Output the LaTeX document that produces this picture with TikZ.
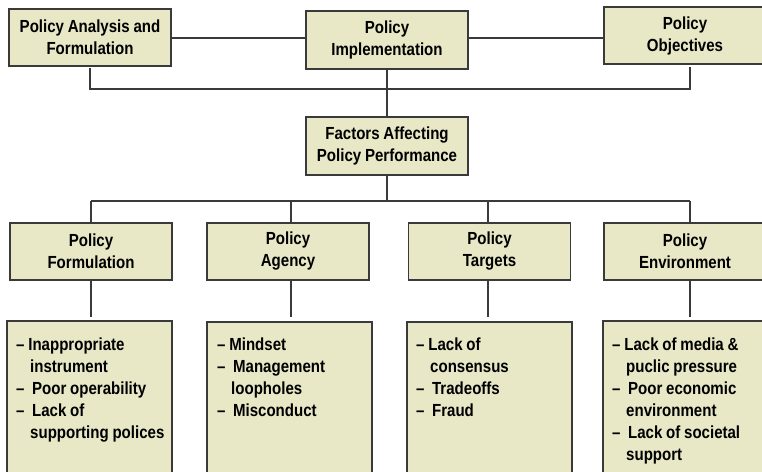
\documentclass[tikz,border=0pt]{standalone}
\usepackage{fontspec}
\setmainfont{Liberation Sans}[FakeStretch=0.86,WordSpace=0.9]
\definecolor{boxfill}{HTML}{E8E7C6}
\definecolor{edge}{HTML}{3A3A3A}
\begin{document}
\begin{tikzpicture}[x=1pt,y=-1pt,
  pbox/.style={draw=edge,line width=1.6pt,fill=boxfill,inner sep=0pt,
    align=center,font=\bfseries\fontsize{17.5}{22}\selectfont,
    minimum width=162pt},
  lbox/.style={draw=edge,line width=1.6pt,fill=boxfill},
  btext/.style={anchor=north west,inner sep=0pt,align=left,
    font=\bfseries\fontsize{17.5}{22}\selectfont},
  conn/.style={draw=edge,line width=1.4pt}]
\useasboundingbox (0,0) rectangle (762,471);
% top row
\node[pbox, minimum height=57pt] (pa) at (90,37.5) {Policy Analysis and\\Formulation};
\node[pbox, minimum height=58pt] (pi) at (387,40) {Policy\\Implementation};
\node[pbox, minimum height=57pt] (po) at (685,35.5) {Policy\\Objectives};
\node[pbox, minimum height=58pt] (pf) at (387,146) {Factors Affecting\\Policy Performance};
% second row
\node[pbox, minimum height=57pt] (f1) at (91,251.5) {Policy\\Formulation};
\node[pbox, minimum height=57pt] (f2) at (288,251.5) {Policy\\Agency};
\node[pbox, minimum height=57pt] (f3) at (489.5,251.5) {Policy\\Targets};
\node[pbox, minimum height=57pt] (f4) at (685,251.5) {Policy\\Environment};
% coordinates
\coordinate (la) at (171,38);
\coordinate (lb) at (306,38);
\coordinate (lc) at (468,38);
\coordinate (ld) at (604,38);
\coordinate (ja0) at (90,68);
\coordinate (ja) at (90,89);
\coordinate (jo) at (690,89);
\coordinate (jo0) at (690,67);
\coordinate (jm) at (387,201);
\coordinate (jl) at (91,201);
\coordinate (jr) at (690,201);
% connectors top
\draw[conn] (la) -- (lb);
\draw[conn] (lc) -- (ld);
\draw[conn] (ja0) -- (ja) -- (jo) -- (jo0);
\draw[conn] (pi.south) -- (pf.north);
\draw[conn] (pf.south) -- (jm);
\draw[conn] (jl) -- (jr);
\draw[conn] (jl) -- (jl |- f1.north);
\draw[conn] (291,201) -- (291,223);
\draw[conn] (488,201) -- (488,223);
\draw[conn] (jr) -- (jr |- f4.north);
% list boxes
\path[lbox] (7,321) rectangle (172,480);
\path[lbox] (207,322) rectangle (372,480);
\path[lbox] (407,322) rectangle (572,480);
\path[lbox] (603,321) rectangle (768,480);
% down to lists
\draw[conn] (91,280) -- (91,317);
\draw[conn] (291,280) -- (291,317);
\draw[conn] (488,280) -- (488,317);
\draw[conn] (690,280) -- (690,317);
\node[btext] (t1) at (16,338) {-- Inappropriate\\\hspace{14pt}instrument\\--\ \ Poor operability\\--\ \ Lack of\\\hspace{14pt}supporting polices};
\node[btext] (t2) at (217,338) {-- Mindset\\--\ \ Management\\\hspace{14pt}loopholes\\--\ \ Misconduct};
\node[btext] (t3) at (416,338) {-- Lack of\\\hspace{14pt}consensus\\--\ \ Tradeoffs\\--\ \ Fraud};
\node[btext] (t4) at (612,338) {-- Lack of media \&\\\hspace{14pt}puclic pressure\\--\ \ Poor economic\\\hspace{14pt}environment\\--\ \ Lack of societal\\\hspace{14pt}support};
\end{tikzpicture}
\end{document}
